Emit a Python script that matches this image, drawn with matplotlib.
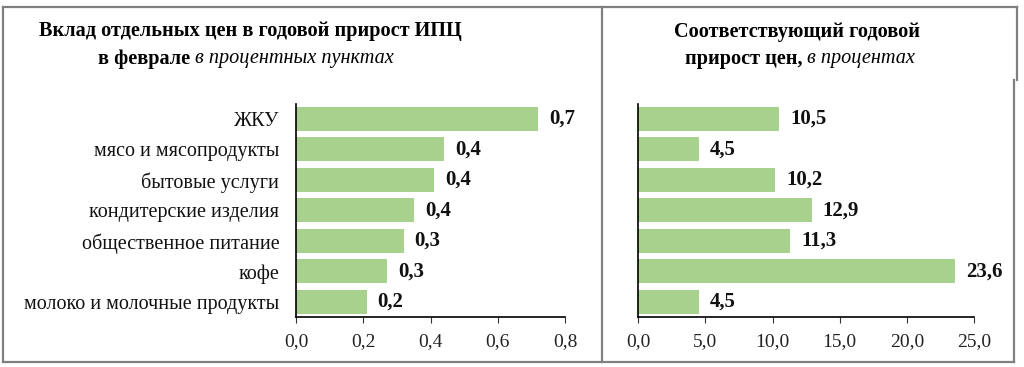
import matplotlib
matplotlib.use("Agg")
import matplotlib.pyplot as plt
from matplotlib.lines import Line2D

plt.rcParams['font.family'] = ['Liberation Serif', 'DejaVu Serif']

categories = ["ЖКУ", "мясо и мясопродукты", "бытовые услуги", "кондитерские изделия",
              "общественное питание", "кофе", "молоко и молочные продукты"]
contrib = [0.72, 0.44, 0.41, 0.35, 0.32, 0.27, 0.21]
contrib_labels = ["0,7", "0,4", "0,4", "0,4", "0,3", "0,3", "0,2"]
growth = [10.5, 4.5, 10.2, 12.9, 11.3, 23.6, 4.5]
growth_labels = ["10,5", "4,5", "10,2", "12,9", "11,3", "23,6", "4,5"]
left_ticks = [0.0, 0.2, 0.4, 0.6, 0.8]
left_ticklabels = ["0,0", "0,2", "0,4", "0,6", "0,8"]
right_ticks = [0, 5, 10, 15, 20, 25]
right_ticklabels = ["0,0", "5,0", "10,0", "15,0", "20,0", "25,0"]

W, H = 1024, 367
fig = plt.figure(figsize=(W/100, H/100), dpi=100)
BAR = '#A9D18E'

def px(x, y):
    return x / W, 1 - y / H

def make_ax(x0, x1, xmax, vals, labels, ticks, ticklabels, cats):
    ax = fig.add_axes([x0 / W, 1 - 317 / H, (x1 - x0) / W, (317 - 103.5) / H])
    ypos = list(range(len(vals)))
    ax.barh(ypos, vals, height=0.78, color=BAR, edgecolor='none')
    ax.set_ylim(len(vals) - 0.5, -0.5)
    ax.set_xlim(0, xmax)
    ax.set_xticks(ticks)
    ax.set_xticklabels(ticklabels, fontsize=14, color='#222222')
    ax.tick_params(axis='x', direction='out', length=4.5, width=0.8, color='#333333', pad=7)
    if cats is not None:
        ax.set_yticks(ypos)
        ax.set_yticklabels(cats, fontsize=14.5, color='#111111')
        ax.tick_params(axis='y', length=0, pad=12)
    else:
        ax.set_yticks([])
    for s in ['top', 'right']:
        ax.spines[s].set_visible(False)
    for s in ['left', 'bottom']:
        ax.spines[s].set_linewidth(1.2)
        ax.spines[s].set_color('black')
    for y, v, lab in zip(ypos, vals, labels):
        ax.annotate(lab, (v, y), xytext=(8, 0), textcoords='offset points',
                    ha='left', va='center', fontsize=15, fontweight='bold', color='#111111')
    return ax

make_ax(296, 565, 0.8, contrib, contrib_labels, left_ticks, left_ticklabels, categories)
make_ax(638.3, 974, 25, growth, growth_labels, right_ticks, right_ticklabels, None)

TS = 14.6
fig.text(*px(250, 31), "Вклад отдельных цен в годовой прирост ИПЦ", ha='center', va='center',
         fontsize=TS, fontweight='bold')
fig.text(*px(797, 32), "Соответствующий годовой", ha='center', va='center',
         fontsize=TS, fontweight='bold')

renderer = fig.canvas.get_renderer()

def mixed_line(cx, cy, bold, ital):
    t1 = fig.text(0, 0, bold, fontsize=TS, fontweight='bold', va='center', ha='left')
    t2 = fig.text(0, 0, ital, fontsize=TS, fontstyle='italic', va='center', ha='left')
    w1 = t1.get_window_extent(renderer).width
    w2 = t2.get_window_extent(renderer).width
    start = cx - (w1 + w2) / 2
    t1.set_position(px(start, cy))
    t2.set_position(px(start + w1, cy))

mixed_line(246, 59, "в феврале ", "в процентных пунктах")
mixed_line(800, 59, "прирост цен, ", "в процентах")

GRAY = '#808080'
def line(xs, ys):
    fig.add_artist(Line2D([x / W for x in xs], [1 - y / H for y in ys], color=GRAY, lw=1.6,
                          transform=fig.transFigure))

line([2.5, 1016.7], [7.3, 7.3])
line([2.5, 2.5], [7.3, 362])
line([2.5, 1014], [362, 362])
line([601.7, 601.7], [7.3, 362])
line([1016.7, 1016.7], [7.3, 80])
line([1014, 1014], [80, 362])

fig.savefig("out.png", dpi=100)
